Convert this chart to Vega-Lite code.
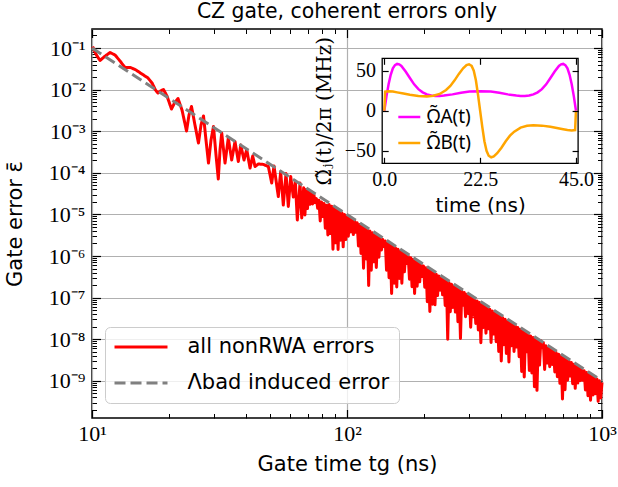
{
  "$schema": "https://vega.github.io/schema/vega-lite/v6.json",
  "width": 510,
  "height": 389,
  "autosize": {"type": "none"},
  "padding": {"left": 92, "top": 29, "right": 16, "bottom": 69},
  "background": "white",
  "title": {"text": "CZ gate, coherent errors only", "font": "DejaVu Sans", "fontSize": 20.4, "fontWeight": "normal", "color": "black", "anchor": "middle", "frame": "group", "offset": 6},
  "config": {
    "view": {"stroke": "black", "strokeWidth": 1.5},
    "axis": {"domain": false, "grid": false, "gridColor": "#b0b0b0", "gridWidth": 1.2, "gridOpacity": 1, "labelFont": "Liberation Serif", "labelFontSize": 22, "labelColor": "black", "labelFlush": false, "labelOverlap": false, "labelBound": false, "tickColor": "black", "tickWidth": 1.2, "titleFont": "DejaVu Sans", "titleFontSize": 21, "titleFontWeight": "normal", "titleColor": "black"}
  },
  "datasets": {
    "red": [
      {"t":10.05,"e":0.1086},{"t":10.41,"e":0.0679},{"t":10.75,"e":0.0501},{"t":11.14,"e":0.0608},{"t":11.77,"e":0.0780},{"t":12.31,"e":0.0679},{"t":12.88,"e":0.0487},{"t":13.47,"e":0.0340},{"t":14.16,"e":0.0340},{"t":14.88,"e":0.0296},
      {"t":15.70,"e":0.0237},{"t":16.58,"e":0.0190},{"t":17.20,"e":0.0144},{"t":17.74,"e":0.00978},{"t":18.15,"e":0.00828},{"t":18.56,"e":0.00925},{"t":19.07,"e":0.01005},{"t":19.68,"e":0.00701},{"t":20.50,"e":0.00342},{"t":21.06,"e":0.00476},
      {"t":21.74,"e":0.00611},{"t":22.54,"e":0.00324},{"t":23.48,"e":0.00101},{"t":24.01,"e":0.00245},{"t":24.56,"e":0.00393},{"t":25.34,"e":0.00141},{"t":26.15,"e":0.000520},{"t":26.76,"e":0.00141},{"t":27.37,"e":0.00232},{"t":27.99,"e":0.000614},
      {"t":28.63,"e":0.000172},{"t":29.29,"e":0.000614},{"t":29.96,"e":0.00130},{"t":30.64,"e":0.000268},{"t":31.28,"e":0.0000710},{"t":31.77,"e":0.000353},{"t":32.26,"e":0.000906},{"t":33.24,"e":0.000172},{"t":34.24,"e":0.000687},{"t":35.30,"e":0.000203},
      {"t":36.38,"e":0.000565},{"t":37.48,"e":0.000187},{"t":38.30,"e":0.000466},{"t":39.46,"e":0.000203},{"t":40.44,"e":0.000363},{"t":41.66,"e":0.000130},{"t":42.68,"e":0.000254},{"t":43.58,"e":0.000142},{"t":44.90,"e":0.000163},{"t":46.98,"e":0.000159},
      {"t":49.15,"e":0.000142},{"t":50.67,"e":0.0000569},{"t":51.73,"e":0.000146},{"t":53.78,"e":0.0000269},{"t":54.95,"e":0.000107},{"t":56.26,"e":0.0000168},{"t":57.66,"e":0.0000962},{"t":58.86,"e":0.0000155},{"t":60.15,"e":0.0000815},{"t":61.58,"e":0.0000262},
      {"t":62.71,"e":0.0000635},{"t":63.85,"e":0.00000733},{"t":65.43,"e":0.0000569},{"t":66.45,"e":0.00000819},
      {"t":67.61,"e":4.37e-5},{"t":68.39,"e":9.70e-6},{"t":69.18,"e":3.98e-5},{"t":69.98,"e":1.38e-5},{"t":70.79,"e":3.63e-5},{"t":71.61,"e":1.75e-5},{"t":72.44,"e":3.31e-5},{"t":73.28,"e":1.79e-5},{"t":74.13,"e":3.02e-5},{"t":74.99,"e":1.92e-5},
      {"t":75.86,"e":2.40e-5},{"t":76.74,"e":1.40e-5},{"t":77.62,"e":2.19e-5},{"t":78.52,"e":6.97e-6},{"t":79.43,"e":2.00e-5},{"t":80.35,"e":8.85e-6},{"t":81.28,"e":1.82e-5},{"t":82.22,"e":4.65e-6},{"t":83.18,"e":1.66e-5},{"t":84.14,"e":3.21e-6},
      {"t":85.11,"e":1.74e-5},{"t":86.10,"e":3.46e-6},{"t":87.10,"e":1.58e-5},{"t":88.10,"e":1.45e-6},{"t":89.13,"e":1.45e-5},{"t":90.16,"e":2.07e-6},{"t":91.20,"e":1.32e-5},{"t":92.26,"e":1.43e-6},{"t":93.33,"e":1.20e-5},{"t":94.41,"e":2.39e-6},
      {"t":95.50,"e":1.10e-5},{"t":96.61,"e":1.66e-6},{"t":97.72,"e":1.00e-5},{"t":98.86,"e":2.48e-6},{"t":100.0,"e":9.12e-6},{"t":101.2,"e":2.99e-6},{"t":102.3,"e":8.32e-6},{"t":103.5,"e":3.79e-6},{"t":104.7,"e":7.59e-6},{"t":105.9,"e":3.27e-6},
      {"t":107.2,"e":6.92e-6},{"t":108.4,"e":3.73e-6},{"t":109.6,"e":6.31e-6},{"t":110.9,"e":1.75e-6},{"t":112.2,"e":5.75e-6},{"t":113.5,"e":1.15e-6},{"t":114.8,"e":5.25e-6},{"t":116.1,"e":5.08e-7},{"t":117.5,"e":4.79e-6},{"t":118.9,"e":8.53e-7},
      {"t":120.2,"e":4.37e-6},{"t":121.6,"e":1.95e-7},{"t":123.0,"e":3.98e-6},{"t":124.5,"e":4.55e-7},{"t":125.9,"e":3.63e-6},{"t":127.4,"e":7.23e-7},{"t":128.8,"e":3.31e-6},{"t":130.3,"e":5.28e-7},{"t":131.8,"e":3.02e-6},{"t":133.4,"e":9.35e-7},
      {"t":134.9,"e":2.75e-6},{"t":136.5,"e":1.40e-6},{"t":138.0,"e":2.51e-6},{"t":139.6,"e":1.69e-6},{"t":141.3,"e":2.29e-6},{"t":142.9,"e":4.56e-7},{"t":144.5,"e":2.09e-6},{"t":146.2,"e":2.99e-7},{"t":147.9,"e":1.91e-6},{"t":149.6,"e":1.25e-7},
      {"t":151.4,"e":1.74e-6},{"t":153.1,"e":2.22e-7},{"t":154.9,"e":1.58e-6},{"t":156.7,"e":1.81e-7},{"t":158.5,"e":1.45e-6},{"t":160.3,"e":2.88e-7},{"t":162.2,"e":1.32e-6},{"t":164.1,"e":2.22e-7},{"t":166.0,"e":1.20e-6},{"t":167.9,"e":4.16e-7},
      {"t":169.8,"e":1.10e-6},{"t":171.8,"e":6.61e-7},{"t":173.8,"e":1.00e-6},{"t":175.8,"e":2.77e-7},{"t":177.8,"e":9.12e-7},{"t":179.9,"e":1.82e-7},{"t":182.0,"e":8.32e-7},{"t":184.1,"e":1.26e-7},{"t":186.2,"e":7.59e-7},{"t":188.4,"e":1.88e-7},
      {"t":190.5,"e":6.92e-7},{"t":192.8,"e":2.39e-7},{"t":195.0,"e":6.31e-7},{"t":197.2,"e":3.21e-7},{"t":199.5,"e":5.75e-7},{"t":201.8,"e":1.78e-7},{"t":204.2,"e":5.25e-7},{"t":206.5,"e":7.93e-8},{"t":208.9,"e":4.79e-7},{"t":211.3,"e":4.63e-8},
      {"t":213.8,"e":4.37e-7},{"t":216.3,"e":6.97e-8},{"t":218.8,"e":3.98e-7},{"t":221.3,"e":6.71e-8},{"t":223.9,"e":3.63e-7},{"t":226.5,"e":1.12e-7},{"t":229.1,"e":3.31e-7},{"t":231.7,"e":1.51e-7},{"t":234.4,"e":3.02e-7},{"t":237.1,"e":1.17e-7},
      {"t":239.9,"e":2.75e-7},{"t":242.7,"e":6.47e-8},{"t":245.5,"e":2.51e-7},{"t":248.3,"e":1.00e-8},{"t":251.2,"e":2.29e-7},{"t":254.1,"e":4.56e-8},{"t":257.0,"e":2.09e-7},{"t":260.0,"e":5.79e-8},{"t":263.0,"e":1.91e-7},{"t":266.1,"e":4.48e-8},
      {"t":269.2,"e":1.74e-7},{"t":272.3,"e":2.62e-8},{"t":275.4,"e":1.58e-7},{"t":278.6,"e":1.04e-8},{"t":281.8,"e":1.45e-7},{"t":285.1,"e":6.59e-8},{"t":288.4,"e":1.32e-7},{"t":291.7,"e":3.46e-8},{"t":295.1,"e":1.20e-7},{"t":298.5,"e":4.16e-8},
      {"t":302.0,"e":1.10e-7},{"t":305.5,"e":1.95e-8},{"t":309.0,"e":1.00e-7},{"t":312.6,"e":3.46e-8},{"t":316.2,"e":9.12e-8},{"t":319.9,"e":2.39e-8},{"t":323.6,"e":8.32e-8},{"t":327.3,"e":1.66e-8},{"t":331.1,"e":7.59e-8},{"t":334.9,"e":8.20e-9},
      {"t":338.8,"e":6.92e-8},{"t":342.7,"e":1.92e-8},{"t":346.7,"e":6.31e-8},{"t":350.7,"e":1.40e-8},{"t":354.8,"e":5.75e-8},{"t":358.9,"e":1.78e-8},{"t":363.1,"e":5.25e-8},{"t":367.3,"e":8.38e-9},{"t":371.5,"e":4.79e-8},{"t":375.8,"e":1.33e-8},
      {"t":380.2,"e":4.37e-8},{"t":384.6,"e":8.69e-9},{"t":389.0,"e":3.98e-8},{"t":393.6,"e":5.09e-9},{"t":398.1,"e":3.63e-8},{"t":402.7,"e":2.98e-9},{"t":407.4,"e":3.31e-8},{"t":412.1,"e":7.36e-9},{"t":416.9,"e":3.02e-8},{"t":421.7,"e":4.56e-9},
      {"t":426.6,"e":2.75e-8},{"t":431.5,"e":2.82e-9},{"t":436.5,"e":2.51e-8},{"t":441.6,"e":6.97e-9},{"t":446.7,"e":2.29e-8},{"t":451.9,"e":5.09e-9},{"t":457.1,"e":2.09e-8},{"t":462.4,"e":6.47e-9},{"t":467.7,"e":1.91e-8},{"t":473.2,"e":3.79e-9},
      {"t":478.6,"e":1.74e-8},{"t":484.2,"e":1.68e-9},{"t":489.8,"e":1.58e-8},{"t":495.5,"e":1.23e-9},{"t":501.2,"e":1.45e-8},{"t":507.0,"e":5.00e-9},{"t":512.9,"e":1.32e-8},{"t":518.8,"e":1.78e-9},{"t":524.8,"e":1.20e-8},{"t":530.9,"e":1.54e-9},
      {"t":537.0,"e":1.10e-8},{"t":543.3,"e":7.21e-10},{"t":549.5,"e":1.00e-8},{"t":555.9,"e":5.89e-10},{"t":562.3,"e":9.12e-9},{"t":568.9,"e":2.39e-9},{"t":575.4,"e":9.12e-9},{"t":582.1,"e":6.25e-9},{"t":588.8,"e":8.32e-9},{"t":595.7,"e":1.88e-9},
      {"t":602.6,"e":6.92e-9},{"t":609.5,"e":2.67e-9},{"t":616.6,"e":6.31e-9},{"t":623.7,"e":2.18e-9},{"t":631.0,"e":5.75e-9},{"t":638.3,"e":2.48e-9},{"t":645.7,"e":5.25e-9},{"t":653.1,"e":1.63e-9},{"t":660.7,"e":4.79e-9},{"t":668.3,"e":1.26e-9},
      {"t":676.1,"e":4.37e-9},{"t":683.9,"e":8.69e-10},{"t":691.8,"e":3.98e-9},{"t":699.8,"e":3.65e-10},{"t":707.9,"e":3.63e-9},{"t":716.1,"e":6.12e-10},{"t":724.4,"e":3.31e-9},{"t":732.8,"e":1.03e-9},{"t":741.3,"e":3.02e-9},{"t":749.9,"e":1.30e-9},
      {"t":758.6,"e":2.75e-9},{"t":767.4,"e":8.53e-10},{"t":776.2,"e":2.51e-9},{"t":785.2,"e":6.59e-10},{"t":794.3,"e":2.29e-9},{"t":803.5,"e":8.85e-10},{"t":812.8,"e":2.09e-9},{"t":822.2,"e":1.01e-9},{"t":831.8,"e":1.91e-9},{"t":841.4,"e":1.03e-9},
      {"t":851.1,"e":1.74e-9},{"t":861.0,"e":6.01e-10},{"t":871.0,"e":1.58e-9},{"t":881.0,"e":4.40e-10},{"t":891.3,"e":1.45e-9},{"t":901.6,"e":3.40e-10},{"t":912.0,"e":1.32e-9},{"t":922.6,"e":4.56e-10},{"t":933.3,"e":1.20e-9},{"t":944.1,"e":4.91e-10},
      {"t":955.0,"e":1.10e-9},{"t":966.1,"e":3.21e-10},{"t":977.2,"e":1.00e-9},{"t":988.6,"e":3.86e-10},{"t":1000,"e":9.12e-10}
    ],
    "dash": [{"t": 10, "e": 0.1}, {"t": 1000, "e": 1e-9}],
    "pulses": [
      {"time":0,"omega":0,"pulse":"Ω̃A(t)"},{"time":0.5,"omega":18,"pulse":"Ω̃A(t)"},{"time":1,"omega":33,"pulse":"Ω̃A(t)"},{"time":1.5,"omega":45,"pulse":"Ω̃A(t)"},{"time":2,"omega":53,"pulse":"Ω̃A(t)"},{"time":2.5,"omega":57,"pulse":"Ω̃A(t)"},{"time":3,"omega":58.5,"pulse":"Ω̃A(t)"},{"time":3.5,"omega":58,"pulse":"Ω̃A(t)"},{"time":4,"omega":56,"pulse":"Ω̃A(t)"},{"time":5,"omega":49,"pulse":"Ω̃A(t)"},
      {"time":6,"omega":41,"pulse":"Ω̃A(t)"},{"time":7,"omega":33,"pulse":"Ω̃A(t)"},{"time":8,"omega":27,"pulse":"Ω̃A(t)"},{"time":9,"omega":23,"pulse":"Ω̃A(t)"},{"time":10,"omega":20.5,"pulse":"Ω̃A(t)"},{"time":11,"omega":19,"pulse":"Ω̃A(t)"},{"time":12,"omega":18.5,"pulse":"Ω̃A(t)"},{"time":13,"omega":18.5,"pulse":"Ω̃A(t)"},{"time":14,"omega":19,"pulse":"Ω̃A(t)"},{"time":16,"omega":20.5,"pulse":"Ω̃A(t)"},
      {"time":18,"omega":22.5,"pulse":"Ω̃A(t)"},{"time":20,"omega":24,"pulse":"Ω̃A(t)"},{"time":22.5,"omega":24.5,"pulse":"Ω̃A(t)"},{"time":25,"omega":24,"pulse":"Ω̃A(t)"},{"time":27,"omega":22.5,"pulse":"Ω̃A(t)"},{"time":29,"omega":20.5,"pulse":"Ω̃A(t)"},{"time":31,"omega":19,"pulse":"Ω̃A(t)"},{"time":32,"omega":18.5,"pulse":"Ω̃A(t)"},{"time":33,"omega":18.5,"pulse":"Ω̃A(t)"},{"time":34,"omega":19,"pulse":"Ω̃A(t)"},
      {"time":35,"omega":20.5,"pulse":"Ω̃A(t)"},{"time":36,"omega":23,"pulse":"Ω̃A(t)"},{"time":37,"omega":27,"pulse":"Ω̃A(t)"},{"time":38,"omega":33,"pulse":"Ω̃A(t)"},{"time":39,"omega":41,"pulse":"Ω̃A(t)"},{"time":40,"omega":49,"pulse":"Ω̃A(t)"},{"time":41,"omega":56,"pulse":"Ω̃A(t)"},{"time":41.5,"omega":58,"pulse":"Ω̃A(t)"},{"time":42,"omega":58.5,"pulse":"Ω̃A(t)"},{"time":42.5,"omega":57,"pulse":"Ω̃A(t)"},
      {"time":43,"omega":53,"pulse":"Ω̃A(t)"},{"time":43.5,"omega":45,"pulse":"Ω̃A(t)"},{"time":44,"omega":33,"pulse":"Ω̃A(t)"},{"time":44.5,"omega":18,"pulse":"Ω̃A(t)"},{"time":45,"omega":0,"pulse":"Ω̃A(t)"},
      {"time":0,"omega":0,"pulse":"Ω̃B(t)"},{"time":0.2,"omega":24,"pulse":"Ω̃B(t)"},{"time":1,"omega":24.5,"pulse":"Ω̃B(t)"},{"time":2,"omega":24,"pulse":"Ω̃B(t)"},{"time":3,"omega":23,"pulse":"Ω̃B(t)"},{"time":4.5,"omega":21.5,"pulse":"Ω̃B(t)"},{"time":6,"omega":20,"pulse":"Ω̃B(t)"},{"time":8,"omega":18.5,"pulse":"Ω̃B(t)"},{"time":10,"omega":18,"pulse":"Ω̃B(t)"},{"time":11.5,"omega":18.7,"pulse":"Ω̃B(t)"},
      {"time":13,"omega":21,"pulse":"Ω̃B(t)"},{"time":14.5,"omega":26,"pulse":"Ω̃B(t)"},{"time":15.5,"omega":31,"pulse":"Ω̃B(t)"},{"time":16.5,"omega":38,"pulse":"Ω̃B(t)"},{"time":17.5,"omega":46,"pulse":"Ω̃B(t)"},{"time":18.5,"omega":53,"pulse":"Ω̃B(t)"},{"time":19.3,"omega":57,"pulse":"Ω̃B(t)"},{"time":19.9,"omega":58,"pulse":"Ω̃B(t)"},{"time":20.5,"omega":56,"pulse":"Ω̃B(t)"},{"time":21,"omega":50,"pulse":"Ω̃B(t)"},
      {"time":21.5,"omega":38,"pulse":"Ω̃B(t)"},{"time":22,"omega":20,"pulse":"Ω̃B(t)"},{"time":22.5,"omega":0,"pulse":"Ω̃B(t)"},{"time":23,"omega":-20,"pulse":"Ω̃B(t)"},{"time":23.5,"omega":-38,"pulse":"Ω̃B(t)"},{"time":24,"omega":-50,"pulse":"Ω̃B(t)"},{"time":24.5,"omega":-56,"pulse":"Ω̃B(t)"},{"time":25.1,"omega":-58,"pulse":"Ω̃B(t)"},{"time":25.7,"omega":-57,"pulse":"Ω̃B(t)"},{"time":26.5,"omega":-53,"pulse":"Ω̃B(t)"},
      {"time":27.5,"omega":-46,"pulse":"Ω̃B(t)"},{"time":28.5,"omega":-38,"pulse":"Ω̃B(t)"},{"time":29.5,"omega":-31,"pulse":"Ω̃B(t)"},{"time":30.5,"omega":-26,"pulse":"Ω̃B(t)"},{"time":32,"omega":-21,"pulse":"Ω̃B(t)"},{"time":33.5,"omega":-18.7,"pulse":"Ω̃B(t)"},{"time":35,"omega":-18,"pulse":"Ω̃B(t)"},{"time":37,"omega":-18.5,"pulse":"Ω̃B(t)"},{"time":39,"omega":-20,"pulse":"Ω̃B(t)"},{"time":40.5,"omega":-21.5,"pulse":"Ω̃B(t)"},
      {"time":42,"omega":-23,"pulse":"Ω̃B(t)"},{"time":43,"omega":-24,"pulse":"Ω̃B(t)"},{"time":44,"omega":-24.5,"pulse":"Ω̃B(t)"},{"time":44.8,"omega":-24,"pulse":"Ω̃B(t)"},{"time":45,"omega":0,"pulse":"Ω̃B(t)"}
    ]
  },
  "layer": [
    {
      "data": {"name": "red"},
      "mark": {"type": "line", "strokeWidth": 3, "strokeJoin": "round"},
      "encoding": {
        "x": {"field": "t", "type": "quantitative", "scale": {"type": "log", "domain": [10, 1000], "nice": false},
              "axis": {"orient": "bottom", "values": [10, 100, 1000], "labelExpr": "'10' + (datum.value < 50 ? '¹' : datum.value < 500 ? '²' : '³')", "tickSize": -8.5, "labelPadding": 13.5, "grid": true, "title": "Gate time tg (ns)", "titlePadding": 9}},
        "y": {"field": "e", "type": "quantitative", "scale": {"type": "log", "domain": [1.276e-10, 0.2864], "nice": false},
              "axis": {"orient": "left", "values": [1e-9, 1e-8, 1e-7, 1e-6, 1e-5, 1e-4, 1e-3, 1e-2, 0.1], "labelExpr": "'10⁻' + ['⁰','¹','²','³','⁴','⁵','⁶','⁷','⁸','⁹'][round(-log(datum.value)/LN10)]", "tickSize": -8.5, "labelPadding": 15.5, "grid": true, "title": "Gate error ε̄", "titlePadding": 23}},
        "color": {"datum": "all nonRWA errors", "scale": {"domain": ["all nonRWA errors", "Λbad induced error"], "range": ["#ff0000", "#808080"]},
                  "legend": {"orient": "none", "legendX": 13, "legendY": 298, "title": null, "symbolType": "M-3,0H3", "symbolSize": 312, "symbolOffset": 16, "symbolStrokeWidth": 3, "labelFont": "DejaVu Sans", "labelFontSize": 21, "labelColor": "black", "labelOffset": 36, "labelLimit": 400, "padding": 9.5, "rowPadding": 14, "fillColor": "rgba(255,255,255,0.8)", "strokeColor": "#cccccc", "cornerRadius": 5}},
        "strokeDash": {"datum": "all nonRWA errors", "scale": {"domain": ["all nonRWA errors", "Λbad induced error"], "range": [[1, 0], [11, 5]]},
                  "legend": {"orient": "none", "legendX": 13, "legendY": 298, "title": null, "symbolType": "M-3,0H3", "symbolSize": 312, "symbolOffset": 16, "symbolStrokeWidth": 3, "labelFont": "DejaVu Sans", "labelFontSize": 21, "labelColor": "black", "labelOffset": 36, "labelLimit": 400, "padding": 9.5, "rowPadding": 14, "fillColor": "rgba(255,255,255,0.8)", "strokeColor": "#cccccc", "cornerRadius": 5}}
      }
    },
    {
      "data": {"name": "dash"},
      "mark": {"type": "line", "strokeWidth": 3},
      "encoding": {
        "x": {"field": "t", "type": "quantitative", "scale": {"type": "log", "domain": [10, 1000], "nice": false},
              "axis": {"orient": "bottom", "values": [20, 30, 40, 50, 60, 70, 80, 90, 200, 300, 400, 500, 600, 700, 800, 900], "tickSize": -4.5, "tickWidth": 1, "labels": false, "title": null}},
        "y": {"field": "e", "type": "quantitative", "scale": {"type": "log", "domain": [1.276e-10, 0.2864], "nice": false},
              "axis": {"orient": "left", "values": [2e-10,3e-10,4e-10,5e-10,6e-10,7e-10,8e-10,9e-10,2e-9,3e-9,4e-9,5e-9,6e-9,7e-9,8e-9,9e-9,2e-8,3e-8,4e-8,5e-8,6e-8,7e-8,8e-8,9e-8,2e-7,3e-7,4e-7,5e-7,6e-7,7e-7,8e-7,9e-7,2e-6,3e-6,4e-6,5e-6,6e-6,7e-6,8e-6,9e-6,2e-5,3e-5,4e-5,5e-5,6e-5,7e-5,8e-5,9e-5,2e-4,3e-4,4e-4,5e-4,6e-4,7e-4,8e-4,9e-4,2e-3,3e-3,4e-3,5e-3,6e-3,7e-3,8e-3,9e-3,2e-2,3e-2,4e-2,5e-2,6e-2,7e-2,8e-2,9e-2,0.2], "tickSize": -4.5, "tickWidth": 1, "labels": false, "title": null}},
        "color": {"datum": "Λbad induced error", "scale": {"domain": ["all nonRWA errors", "Λbad induced error"], "range": ["#ff0000", "#808080"]}},
        "strokeDash": {"datum": "Λbad induced error", "scale": {"domain": ["all nonRWA errors", "Λbad induced error"], "range": [[1, 0], [11, 5]]}}
      }
    },
    {
      "data": {"name": "dash"},
      "mark": {"type": "line", "opacity": 0},
      "encoding": {
        "x": {"field": "t", "type": "quantitative", "scale": {"type": "log", "domain": [10, 1000], "nice": false},
              "axis": {"orient": "top", "values": [10, 100, 1000], "tickSize": -8.5, "labels": false, "title": null}},
        "y": {"field": "e", "type": "quantitative", "scale": {"type": "log", "domain": [1.276e-10, 0.2864], "nice": false},
              "axis": {"orient": "right", "values": [1e-9, 1e-8, 1e-7, 1e-6, 1e-5, 1e-4, 1e-3, 1e-2, 0.1], "tickSize": -8.5, "labels": false, "title": null}}
      }
    },
    {
      "data": {"name": "dash"},
      "mark": {"type": "line", "opacity": 0},
      "encoding": {
        "x": {"field": "t", "type": "quantitative", "scale": {"type": "log", "domain": [10, 1000], "nice": false},
              "axis": {"orient": "top", "values": [20, 30, 40, 50, 60, 70, 80, 90, 200, 300, 400, 500, 600, 700, 800, 900], "tickSize": -4.5, "tickWidth": 1, "labels": false, "title": null}},
        "y": {"field": "e", "type": "quantitative", "scale": {"type": "log", "domain": [1.276e-10, 0.2864], "nice": false},
              "axis": {"orient": "right", "values": [2e-10,3e-10,4e-10,5e-10,6e-10,7e-10,8e-10,9e-10,2e-9,3e-9,4e-9,5e-9,6e-9,7e-9,8e-9,9e-9,2e-8,3e-8,4e-8,5e-8,6e-8,7e-8,8e-8,9e-8,2e-7,3e-7,4e-7,5e-7,6e-7,7e-7,8e-7,9e-7,2e-6,3e-6,4e-6,5e-6,6e-6,7e-6,8e-6,9e-6,2e-5,3e-5,4e-5,5e-5,6e-5,7e-5,8e-5,9e-5,2e-4,3e-4,4e-4,5e-4,6e-4,7e-4,8e-4,9e-4,2e-3,3e-3,4e-3,5e-3,6e-3,7e-3,8e-3,9e-3,2e-2,3e-2,4e-2,5e-2,6e-2,7e-2,8e-2,9e-2,0.2], "tickSize": -4.5, "tickWidth": 1, "labels": false, "title": null}}
      }
    },
    {
      "data": {"values": [{}]},
      "mark": {"type": "rect", "fill": "white", "stroke": "black", "strokeWidth": 1.3},
      "encoding": {
        "x": {"datum": -0.5, "type": "quantitative", "scale": {"domain": [-0.5, 45.5], "range": [290.2, 486.1], "nice": false, "zero": false},
              "axis": {"orient": "bottom", "offset": -254.7, "values": [0, 22.5, 45], "format": ".1f", "tickSize": -6, "labelPadding": 12, "labelFontSize": 20, "title": "time (ns)", "titleFontSize": 20, "titlePadding": 6, "zindex": 1}},
        "x2": {"datum": 45.5},
        "y": {"datum": -65.5, "type": "quantitative", "scale": {"domain": [-65.5, 65.5], "range": [134.3, 29.3], "nice": false, "zero": false},
              "axis": {"orient": "left", "offset": -290.2, "values": [-50, 0, 50], "format": "d", "tickSize": -6, "labelPadding": 12.7, "labelFontSize": 20, "title": "Ω̃ⱼ(t)/2π (MHz)", "titleFont": "DejaVu Serif", "titleFontSize": 20, "titlePadding": 10, "zindex": 1}},
        "y2": {"datum": 65.5}
      }
    },
    {
      "data": {"name": "pulses"},
      "mark": {"type": "line", "strokeWidth": 2.5},
      "encoding": {
        "x": {"field": "time", "type": "quantitative", "scale": {"domain": [-0.5, 45.5], "range": [290.2, 486.1], "nice": false, "zero": false},
              "axis": {"orient": "top", "offset": -29.3, "values": [0, 22.5, 45], "tickSize": -6, "labels": false, "title": null, "zindex": 1}},
        "y": {"field": "omega", "type": "quantitative", "scale": {"domain": [-65.5, 65.5], "range": [134.3, 29.3], "nice": false, "zero": false},
              "axis": {"orient": "right", "offset": -23.9, "values": [-50, 0, 50], "tickSize": -6, "labels": false, "title": null, "zindex": 1}},
        "stroke": {"field": "pulse", "type": "nominal", "scale": {"domain": ["Ω̃A(t)", "Ω̃B(t)"], "range": ["#ff00ff", "#ffa500"]},
                   "legend": {"orient": "none", "legendX": 304.8, "legendY": 75.5, "title": null, "symbolType": "stroke", "symbolSize": 484, "symbolStrokeWidth": 2.5, "labelFont": "Noto Sans", "labelFontSize": 19, "labelColor": "black", "labelOffset": 5, "padding": 0, "rowPadding": 3}}
      }
    }
  ],
  "resolve": {"scale": {"x": "independent", "y": "independent"}, "axis": {"x": "independent", "y": "independent"}}
}
